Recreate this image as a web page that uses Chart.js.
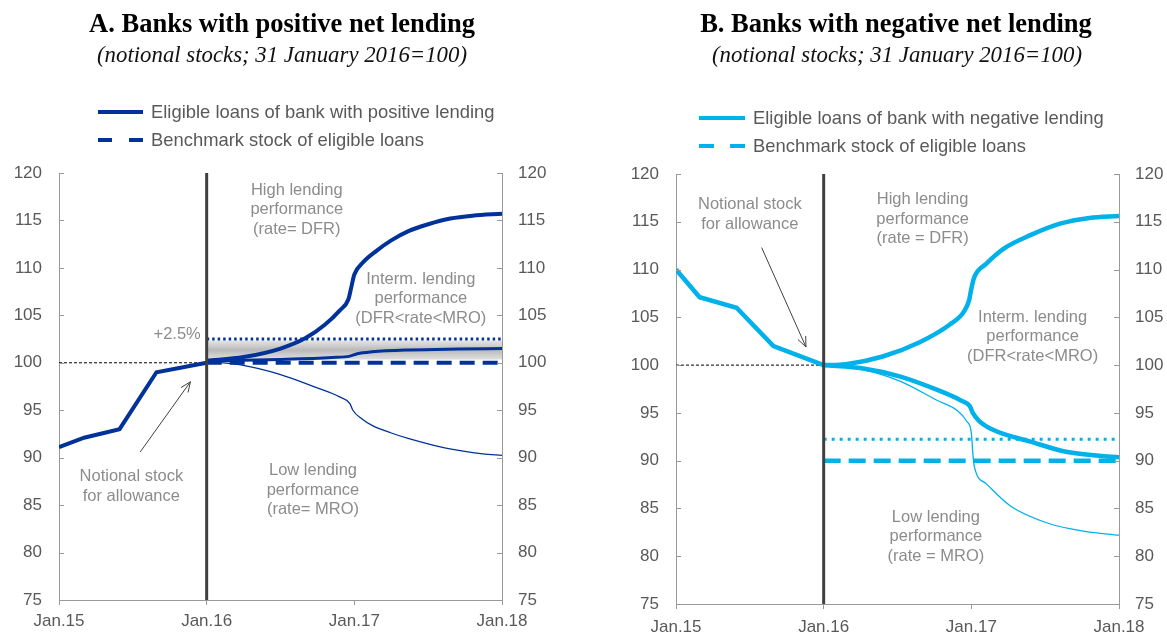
<!DOCTYPE html>
<html>
<head>
<meta charset="utf-8">
<script src="https://cdn.jsdelivr.net/npm/chart.js@4.4.1/dist/chart.umd.min.js"></script>
<style>
  body { margin: 0; width: 1167px; height: 634px; position: relative; overflow: hidden; background: #fff; font-family: "Liberation Sans", Arial, sans-serif; }
  canvas { position: absolute; top: 0; }
  #grafA { left: 0; }
  #grafB { left: 583px; }
  .titulo { position: absolute; top: 10px; font: bold 26.5px/26px "Liberation Serif", serif; color: #000; white-space: nowrap; transform: translateX(-50%); }
  .subtitulo { position: absolute; top: 44px; font: italic 22.8px/22px "Liberation Serif", serif; color: #111; white-space: nowrap; transform: translateX(-50%); }
  .leyenda { position: absolute; display: flex; align-items: center; height: 20px; font-size: 18.4px; color: #595959; white-space: nowrap; }
  .muestra { display: flex; justify-content: space-between; margin-right: 8px; }
  .muestra span { display: block; height: 4px; }
</style>
</head>
<body>
<canvas id="grafA" width="583" height="634"></canvas>
<canvas id="grafB" width="584" height="634"></canvas>

<div class="titulo" style="left:282px">A. Banks with positive net lending</div>
<div class="subtitulo" style="left:282px">(notional stocks; 31 January 2016=100)</div>
<div class="titulo" style="left:896px">B. Banks with negative net lending</div>
<div class="subtitulo" style="left:897px">(notional stocks; 31 January 2016=100)</div>

<div class="leyenda" style="left:98px;top:102px"><div class="muestra" style="width:45px"><span style="width:45px;background:#003299"></span></div>Eligible loans of bank with positive lending</div>
<div class="leyenda" style="left:98px;top:130px"><div class="muestra" style="width:45px"><span style="width:14px;background:#003299"></span><span style="width:14px;background:#003299"></span></div>Benchmark stock of eligible loans</div>
<div class="leyenda" style="left:699px;top:108px"><div class="muestra" style="width:46px"><span style="width:46px;background:#00b1ea"></span></div>Eligible loans of bank with negative lending</div>
<div class="leyenda" style="left:699px;top:136px"><div class="muestra" style="width:46px"><span style="width:15px;background:#00b1ea"></span><span style="width:15px;background:#00b1ea"></span></div>Benchmark stock of eligible loans</div>

<script>
// ejes
const tickYears = [2015, 2016, 2017, 2018];
const tickLabels = ['Jan.15', 'Jan.16', 'Jan.17', 'Jan.18'];

// Panel A: bancos con préstamo neto positivo
const aPreX = [2015.0, 2015.17, 2015.41, 2015.66, 2016.0];
const aPreY = [91.1, 92.1, 93.0, 99.0, 100.0];
const aHighX = [2016.0, 2016.25, 2016.5, 2016.67, 2016.8, 2016.9, 2016.96, 2016.98, 2017.0, 2017.06, 2017.15, 2017.25, 2017.37, 2017.5, 2017.65, 2017.8, 2018.0];
const aHighY = [100.2, 100.6, 101.5, 102.6, 104.0, 105.5, 106.7, 108.0, 109.3, 110.6, 111.8, 112.9, 113.9, 114.6, 115.2, 115.5, 115.7];
const aMidX = [2016.0, 2016.5, 2016.85, 2016.97, 2017.02, 2017.12, 2017.37, 2017.7, 2018.0];
const aMidY = [100.2, 100.35, 100.55, 100.7, 100.95, 101.15, 101.35, 101.45, 101.5];
const aLowX = [2016.0, 2016.24, 2016.49, 2016.74, 2016.9, 2016.97, 2016.99, 2017.05, 2017.12, 2017.25, 2017.37, 2017.62, 2017.87, 2018.0];
const aLowY = [100.15, 99.75, 98.8, 97.4, 96.4, 95.7, 95.0, 94.1, 93.4, 92.6, 92.0, 91.0, 90.4, 90.25];
const aBenchmark = 100;
const aThreshold = 102.5;
const aBand = [100.35, 102.35];

// Panel B: bancos con préstamo neto negativo
const bPreX = [2015.0, 2015.16, 2015.41, 2015.66, 2016.0];
const bPreY = [110.0, 107.1, 106.0, 102.0, 100.0];
const bHighX = [2016.0, 2016.15, 2016.4, 2016.65, 2016.85, 2016.95, 2016.985, 2017.0, 2017.02, 2017.1, 2017.22, 2017.4, 2017.6, 2017.8, 2018.0];
const bHighY = [100.0, 100.1, 100.9, 102.4, 104.2, 105.6, 106.8, 108.0, 109.2, 110.6, 112.2, 113.6, 114.8, 115.4, 115.6];
const bMidX = [2016.0, 2016.27, 2016.52, 2016.77, 2016.93, 2016.99, 2017.01, 2017.05, 2017.15, 2017.4, 2017.65, 2018.0];
const bMidY = [100.0, 99.65, 98.8, 97.4, 96.3, 95.7, 95.0, 94.2, 93.2, 92.0, 90.9, 90.35];
const bLowX = [2016.0, 2016.27, 2016.52, 2016.77, 2016.9, 2016.97, 2017.0, 2017.01, 2017.02, 2017.1, 2017.27, 2017.52, 2017.77, 2018.0];
const bLowY = [100.0, 99.5, 98.3, 96.3, 95.3, 94.1, 92.9, 90.8, 89.4, 87.6, 85.2, 83.45, 82.6, 82.2];
const bBenchmark = 90;
const bThreshold = 92.25;

const azul = '#003299';
const celeste = '#00b1ea';
const gris = '#999999';
const textoEje = '#595959';
const textoNota = '#8c8c8c';

function pts(xs, ys) {
  return xs.map((x, i) => ({ x: x, y: ys[i] }));
}

function plano(valor) {
  return [{ x: 2016, y: valor }, { x: 2018, y: valor }];
}

// notas y flechas, en coordenadas de datos
const notas = {
  grafA: {
    textos: [
      { x: 2016.61, y: 118.2, lineas: ['High lending', 'performance', '(rate= DFR)'] },
      { x: 2017.45, y: 108.8, lineas: ['Interm. lending', 'performance', '(DFR<rate<MRO)'] },
      { x: 2016.72, y: 88.6, lineas: ['Low lending', 'performance', '(rate= MRO)'] },
      { x: 2015.49, y: 88.0, lineas: ['Notional stock', 'for allowance'] },
      { x: 2015.8, y: 103.0, lineas: ['+2.5%'] }
    ],
    flecha: { x1: 2015.55, y1: 90.6, x2: 2015.89, y2: 98.0 }
  },
  grafB: {
    textos: [
      { x: 2015.5, y: 116.8, lineas: ['Notional stock', 'for allowance'] },
      { x: 2016.67, y: 117.3, lineas: ['High lending', 'performance', '(rate = DFR)'] },
      { x: 2017.415, y: 105.0, lineas: ['Interm. lending', 'performance', '(DFR<rate<MRO)'] },
      { x: 2016.76, y: 84.1, lineas: ['Low lending', 'performance', '(rate = MRO)'] }
    ],
    flecha: { x1: 2015.58, y1: 112.3, x2: 2015.88, y2: 101.9 }
  }
};

const notasPlugin = {
  id: 'notas',
  afterDatasetsDraw(chart) {
    const { ctx, chartArea, scales } = chart;
    const x = scales.x, y = scales.y;
    const n = notas[chart.canvas.id];
    ctx.save();
    // marcas hacia dentro en los ejes verticales
    ctx.strokeStyle = gris;
    ctx.lineWidth = 1;
    y.ticks.forEach(t => {
      const py = Math.round(y.getPixelForValue(t.value)) + 0.5;
      ctx.beginPath();
      ctx.moveTo(chartArea.left, py);
      ctx.lineTo(chartArea.left + 5, py);
      ctx.moveTo(chartArea.right, py);
      ctx.lineTo(chartArea.right - 5, py);
      ctx.stroke();
    });
    // textos
    ctx.font = '16.5px "Liberation Sans", Arial, sans-serif';
    ctx.fillStyle = textoNota;
    ctx.textAlign = 'center';
    ctx.textBaseline = 'middle';
    n.textos.forEach(t => {
      const px = x.getPixelForValue(t.x);
      const py = y.getPixelForValue(t.y);
      t.lineas.forEach((l, i) => ctx.fillText(l, px, py + i * 19.5));
    });
    // flecha
    const f = n.flecha;
    const x1 = x.getPixelForValue(f.x1), y1 = y.getPixelForValue(f.y1);
    const x2 = x.getPixelForValue(f.x2), y2 = y.getPixelForValue(f.y2);
    const ang = Math.atan2(y2 - y1, x2 - x1);
    ctx.strokeStyle = '#404040';
    ctx.lineWidth = 1;
    ctx.beginPath();
    ctx.moveTo(x1, y1);
    ctx.lineTo(x2, y2);
    ctx.moveTo(x2 - 11 * Math.cos(ang - 0.4), y2 - 11 * Math.sin(ang - 0.4));
    ctx.lineTo(x2, y2);
    ctx.lineTo(x2 - 11 * Math.cos(ang + 0.4), y2 - 11 * Math.sin(ang + 0.4));
    ctx.stroke();
    ctx.restore();
  }
};

Chart.defaults.font.family = '"Liberation Sans", Arial, sans-serif';
Chart.defaults.font.size = 17;

function linea(datos, color, ancho, extra) {
  return Object.assign({
    data: datos,
    borderColor: color,
    backgroundColor: color,
    borderWidth: ancho,
    pointRadius: 0,
    fill: false,
    cubicInterpolationMode: 'monotone'
  }, extra || {});
}

function crearGrafico(id, cfg) {
  return new Chart(document.getElementById(id), {
    type: 'line',
    data: { datasets: cfg.datasets },
    options: {
      responsive: false,
      animation: false,
      events: [],
      layout: { padding: { top: cfg.arriba, left: 0, right: 0, bottom: 0 } },
      plugins: { legend: { display: false }, tooltip: { enabled: false } },
      scales: {
        x: {
          type: 'linear', min: 2015, max: 2018,
          afterBuildTicks: s => { s.ticks = tickYears.map(v => ({ value: v })); },
          afterFit: s => { s.height = cfg.altoX; },
          grid: { drawOnChartArea: false, tickLength: 5, color: gris },
          border: { color: gris },
          ticks: { color: textoEje, padding: cfg.separaX, maxRotation: 0, autoSkip: false,
                   callback: v => tickLabels[tickYears.indexOf(v)] }
        },
        y: {
          position: 'left', min: 75, max: 120,
          afterFit: s => { s.width = cfg.anchoIzq; },
          grid: { drawOnChartArea: false, drawTicks: false },
          border: { color: gris },
          ticks: { stepSize: 5, color: textoEje, padding: 17 }
        },
        y2: {
          position: 'right', min: 75, max: 120,
          afterFit: s => { s.width = cfg.anchoDer; },
          grid: { drawOnChartArea: false, drawTicks: false },
          border: { color: gris },
          ticks: { stepSize: 5, color: textoEje, padding: 16 }
        }
      }
    },
    plugins: [notasPlugin]
  });
}

// degradado gris de la banda +2.5%
function bandaGris(context) {
  const chart = context.chart;
  if (!chart.chartArea) return 'rgba(190,190,190,0.8)';
  const y = chart.scales.y;
  const top = y.getPixelForValue(aBand[1]);
  const bot = y.getPixelForValue(aBand[0]);
  const g = chart.ctx.createLinearGradient(0, top, 0, bot);
  g.addColorStop(0, 'rgba(200,200,200,0.5)');
  g.addColorStop(0.5, 'rgba(180,180,180,0.95)');
  g.addColorStop(1, 'rgba(200,200,200,0.6)');
  return g;
}

crearGrafico('grafA', {
  arriba: 173, altoX: 34, anchoIzq: 59, anchoDer: 81, separaX: 6,
  datasets: [
    linea([{ x: 2016, y: 75 }, { x: 2016, y: 120 }], '#404040', 3, { cubicInterpolationMode: 'default' }),
    linea(pts(aPreX, aPreY), azul, 4, { cubicInterpolationMode: 'default' }),
    linea(pts(aHighX, aHighY), azul, 4),
    linea(pts(aMidX, aMidY), azul, 3),
    linea(pts(aLowX, aLowY), azul, 1.3),
    linea(plano(aBenchmark), azul, 4, { borderDash: [15, 8] }),
    linea(plano(aThreshold), azul, 3, { borderDash: [2.5, 3] }),
    linea([{ x: 2015, y: 100 }, { x: 2016, y: 100 }], '#000000', 1, { borderDash: [3, 2] }),
    linea(plano(aBand[0]), 'rgba(0,0,0,0)', 0),
    linea(plano(aBand[1]), 'rgba(0,0,0,0)', 0, { fill: '-1', backgroundColor: bandaGris })
  ]
});

crearGrafico('grafB', {
  arriba: 174, altoX: 30, anchoIzq: 93, anchoDer: 48, separaX: 8,
  datasets: [
    linea([{ x: 2016, y: 75 }, { x: 2016, y: 120 }], '#404040', 3, { cubicInterpolationMode: 'default' }),
    linea(pts(bPreX, bPreY), celeste, 4.5, { cubicInterpolationMode: 'default' }),
    linea(pts(bHighX, bHighY), celeste, 4.5),
    linea(pts(bMidX, bMidY), celeste, 4.5),
    linea(pts(bLowX, bLowY), celeste, 1.3),
    linea(plano(bBenchmark), celeste, 4.5, { borderDash: [17, 8] }),
    linea(plano(bThreshold), celeste, 3, { borderDash: [3, 5] }),
    linea([{ x: 2015, y: 100 }, { x: 2016, y: 100 }], '#000000', 1, { borderDash: [3, 2] })
  ]
});
</script>
</body>
</html>
